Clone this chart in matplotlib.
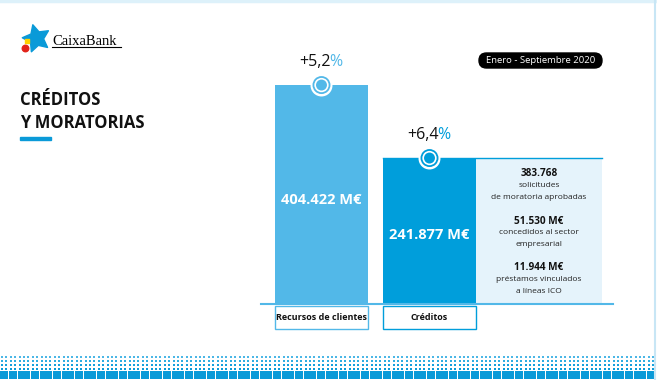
import matplotlib.pyplot as plt
import numpy as np
from matplotlib.patches import Rectangle, FancyBboxPatch
from matplotlib import transforms

plt.rcParams['font.family'] = ['Open Sans', 'DejaVu Sans']

# data
categories = ['Recursos de clientes', 'Créditos']
values = [404.422, 241.877]
value_labels = ['404.422 M€', '241.877 M€']
growth = ['+5,2', '+6,4']
bar_colors = ['#52B8E8', '#009EDB']

panel_heads = ['383.768', '51.530 M€', '11.944 M€']
panel_texts = [['solicitudes', 'de moratoria aprobadas'],
               ['concedidos al sector', 'empresarial'],
               ['préstamos vinculados', 'a líneas ICO']]

fig = plt.figure(figsize=(6.57, 3.8), dpi=100)

# background axes in pixel coords, for decoration and titles
bg = fig.add_axes([0, 0, 1, 1])
bg.set_xlim(0, 657)
bg.set_ylim(380, 0)
bg.axis('off')

# top border + right edge
bg.plot([0, 657], [1, 1], color='#DDF1FA', lw=2.5)
bg.plot([655, 655], [0, 380], color='#C8E6F5', lw=1.5)

# logo
bg.scatter([36], [38], marker=(5, 1, 15), s=420, color='#0A9AD8', zorder=3)
bg.scatter([25], [48], marker='o', s=22, color='#E2231A', zorder=4)
bg.scatter([27], [41], marker='s', s=8, color='#FFD200', zorder=4)
bg.text(52, 45, 'CaixaBank', family='Liberation Serif', fontsize=10.5, color='black', va='baseline')
bg.plot([52, 121], [46.5, 46.5], color='black', lw=0.8)

# title
bg.text(20, 105, 'CRÉDITOS', fontsize=12, fontweight='bold', color='#111111', va='baseline')
bg.text(20, 128, 'Y MORATORIAS', fontsize=12, fontweight='bold', color='#111111', va='baseline')
bg.add_patch(Rectangle((20, 137), 31, 2.5, color='#0A9AD8'))

# date pill
bg.add_patch(FancyBboxPatch((479, 53), 123, 15, boxstyle='round,pad=0,rounding_size=7.5',
                            facecolor='black', edgecolor='black'))
bg.text(540.5, 60.5, 'Enero - Septiembre 2020', fontsize=6.8, color='white', ha='center', va='center')

# bottom halftone strip
row_y = [353, 357, 361, 365, 369, 373, 377]
row_px = [0.9, 1.4, 1.9, 2.4, 2.9, 3.4, 3.9]
row_col = ['#6CC4EC', '#4CB7E6', '#2EADE2', '#159FDC', '#0A9AD8', '#0A9AD8', '#0A9AD8']
cols = np.arange(2, 657, 4.4)
for yy, px, cc in zip(row_y, row_px, row_col):
    bg.scatter(cols, np.full(len(cols), yy), marker='s', s=(px * 0.72) ** 2, color=cc, linewidths=0)

# bar chart axes
ax = fig.add_axes([261 / 657, 76 / 380, 352 / 657, 264 / 380])
ax.axis('off')
v0 = -83.2
k = 0.449  # pixels per M€ (thousands)
ax.set_xlim(-0.560, 2.699)
ax.set_ylim(v0, v0 + 264 / k)
x = np.arange(len(categories))
w = 0.861

ax.bar(x, np.array(values) - v0, bottom=v0, width=w, color=bar_colors, zorder=2)
# side panel next to Créditos
ax.bar(2.014, values[1] - v0, bottom=v0, width=1.166, color='#E5F3FB', zorder=1)
ax.plot([1 - w / 2, 2.597], [values[1], values[1]], color='#009EDB', lw=1, zorder=3)
ax.plot([-0.560, 2.699], [v0, v0], color='#52B8E8', lw=1.5, clip_on=False, zorder=3)

# markers on bar tops
ax.scatter(x, values, s=250, color='white', zorder=4, linewidths=0)
ax.scatter(x, values, s=135, facecolor='white', edgecolor=bar_colors, linewidths=1.3, zorder=5)
ax.scatter(x, values, s=62, color=bar_colors, zorder=6, linewidths=0)

for i in range(len(categories)):
    ax.annotate(growth[i], xy=(x[i], values[i]), xytext=(6.6, 13.5), textcoords='offset points',
                ha='right', va='baseline', fontsize=11.5, color='#111111')
    ax.annotate('%', xy=(x[i], values[i]), xytext=(5.6, 13.5), textcoords='offset points',
                ha='left', va='baseline', fontsize=11.5, color=bar_colors[i])
    ax.text(x[i], v0 + 0.475 * (values[i] - v0), value_labels[i], ha='center', va='center',
            fontsize=10.5, fontweight='bold', color='white', zorder=4)

# category label boxes under the bars
blend = transforms.blended_transform_factory(ax.transData, bg.transData)
for i in range(len(categories)):
    ax.add_patch(Rectangle((x[i] - w / 2, 306), w, 23, transform=blend, facecolor='white',
                           edgecolor=bar_colors[i], lw=1, clip_on=False))
    ax.text(x[i], 318, categories[i], transform=blend, ha='center', va='center',
            fontsize=6.5, fontweight='bold', color='#111111')

# panel texts
for i in range(len(panel_heads)):
    y0 = 174 + 47 * i
    ax.text(2.014, y0, panel_heads[i], transform=blend, ha='center', va='center',
            fontsize=7.2, fontweight='bold', color='#111111')
    for j, line in enumerate(panel_texts[i]):
        ax.text(2.014, y0 + 11.5 + 12 * j, line, transform=blend, ha='center', va='center',
                fontsize=6, color='#222222')

plt.savefig('out.png', dpi=100)
